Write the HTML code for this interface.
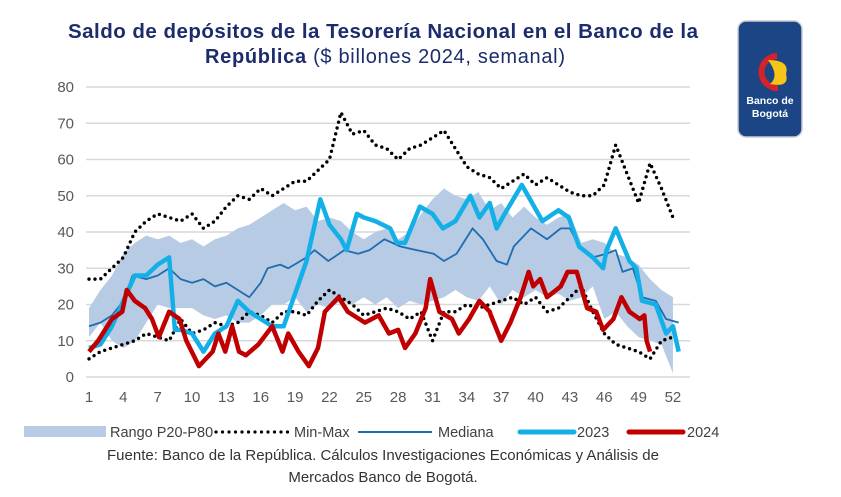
<!DOCTYPE html>
<html><head><meta charset="utf-8"><style>
body{margin:0;background:#fff;}
svg{display:block;font-family:"Liberation Sans",Arial,sans-serif;}
</style></head><body>
<svg id="chart" width="841" height="497" viewBox="0 0 841 497">
<text x="383" y="38" text-anchor="middle" font-size="20.5" font-weight="bold" fill="#1c2c6c" textLength="630">Saldo de depósitos de la Tesorería Nacional en el Banco de la</text>
<text x="385" y="63" text-anchor="middle" font-size="20" fill="#1c2c6c" textLength="360"><tspan font-weight="bold">República</tspan> ($ billones 2024, semanal)</text>
<g>
<rect x="738" y="21" width="64" height="116" rx="8" fill="#1b4585" stroke="#c9ccd3" stroke-width="1.5"/>
<path d="M777 56 A15 15 0 1 0 778 88" fill="none" stroke="#d62229" stroke-width="6"/>
<path d="M768 60 Q790 60 786 74 Q790 88 770 84 Q780 76 768 60Z" fill="#f5c518"/>
<text x="770" y="104" text-anchor="middle" font-size="10.5" font-weight="bold" fill="#fff">Banco de</text>
<text x="770" y="117" text-anchor="middle" font-size="10.5" font-weight="bold" fill="#fff">Bogotá</text>
</g>
<g id="grid"></g><g id="plot"></g><g id="axes"></g>
<g font-size="14.5" fill="#404040">
<rect x="24" y="426" width="82" height="11" fill="#b8cbe4"/>
<text x="110" y="437">Rango P20-P80</text>
<line x1="216" y1="432" x2="288" y2="432" stroke="#000" stroke-width="3.2" stroke-linecap="round" stroke-dasharray="0 6.5"/>
<text x="294" y="437">Min-Max</text>
<line x1="358" y1="432" x2="432" y2="432" stroke="#1f6db0" stroke-width="2"/>
<text x="438" y="437">Mediana</text>
<line x1="520" y1="432" x2="574" y2="432" stroke="#13b0e8" stroke-width="5" stroke-linecap="round"/>
<text x="577" y="437">2023</text>
<line x1="629" y1="432" x2="683" y2="432" stroke="#c00000" stroke-width="5" stroke-linecap="round"/>
<text x="687" y="437">2024</text>
</g>
<text x="383" y="460" text-anchor="middle" font-size="15" fill="#333">Fuente: Banco de la República. Cálculos Investigaciones Económicas y Análisis de</text>
<text x="383" y="482" text-anchor="middle" font-size="15" fill="#333">Mercados Banco de Bogotá.</text>
</svg>
<script>
const weeks=[1,2,3,4,5,6,7,8,9,10,11,12,13,14,15,16,17,18,19,20,21,22,23,24,25,26,27,28,29,30,31,32,33,34,35,36,37,38,39,40,41,42,43,44,45,46,47,48,49,50,51,52];
const bandUpper=[19,24,28,34,37,39,38,39,37,38,36,38,39,41,42,44,46,48,46,47,43,44,43,40,38,40,41,38,40,45,49,52,50,49,51,46,48,44,47,44,42,44,45,37,38,37,34,33,31,27,24,22];
const bandLower=[11,15,10,8,10,15,20,19,19,19,17,16,17,15,15,17,20,20,22,18,20,19,21,20,22,20,22,19,21,20,21,22,24,22,21,25,20,24,22,24,22,23,21,22,25,16,18,14,11,10,9,1];
const maxVals=[27,27,30,33,40,43,45,44,43,45,41,43,47,50,49,52,50,52,54,54,57,60,73,67,68,64,63,60,63,64,66,68,63,58,56,55,52,54,56,53,55,53,51,50,50,53,64,56,48,59,52,44];
const minVals=[5,7,8,9,10,12,11,10,16,12,13,15,14,15,18,17,15,18,18,17,21,24,22,20,17,18,19,18,16,18,10,18,18,20,19,20,21,22,20,22,18,19,22,25,18,12,9,8,7,5,10,11];
const medWeeks=[1,2,3,4,4.8,6,7,8,9,10,11,12,13,14,15,16,16.6,17.7,18.4,20,20.7,21.9,23.3,24.5,25.5,26.8,28.2,29.6,31.1,32,33.1,34.5,35.4,36.6,37.5,38.1,39.6,41,42.2,43,43.8,45,46.2,47,47.6,48.5,49.3,50.5,51.4,52.5];
const medVals=[14,15,17,21,28,27,28,30,27,26,27,25,26,24,22,26,30,31,30,33,35,32,35,34,35,38,36,35,34,32,34,41,38,32,31,36,41,38,41,41,36,33,34,35,29,30,22,21,16,15];
const y23Weeks=[1,2,3,4,5,6,7,8,8.5,9,10,11,12,13,14,15,16,17,18,19,20,21.2,22,23,23.5,24.4,25,26,27.3,27.9,28.6,29.9,31,31.9,33,34.3,35.1,36,36.6,37.3,38.8,39.7,40.6,42,42.9,43.8,45,45.9,46.2,47,48.2,48.8,49.3,50.5,51.4,52,52.5];
const y23Vals=[8,9,14,21,28,28,31,33,13,13,12,7,12,14,21,18,16,14,14,23,32,49,42,38,35,45,44,43,41,37,37,47,45,41,43,50,44,48,41,45,53,48,43,46,44,36,33,30,35,41,32,30,21,20,12,14,7];
const y24Weeks=[1,1.8,2.4,3,3.9,4.3,5,5.9,6.5,7.1,8,8.9,9.5,10.6,11.8,12.3,12.9,13.5,14.1,14.7,15.8,17,17.9,18.4,19.3,20.2,21,21.6,22.8,23.6,25.1,26.3,27.2,28,28.6,29.5,30.4,30.8,31.6,32.7,33.3,34.2,35.1,36,36.1,37,37.8,38.7,39.4,39.8,40.4,41,42.2,42.8,43.6,44.5,45.3,45.9,46.8,47.5,48.2,49.1,49.5,49.7,50];
const y24Vals=[7,10,13,16,18,24,21,19,16,11,18,16,10,3,7,12,7,14,7,6,9,14,7,12,7,3,8,18,22,18,15,17,12,13,8,12,19,27,18,16,12,16,21,18,17,10,15,22,29,25,27,22,25,29,29,19,18,13,16,22,18,16,17,10,7];
const yTicks=[0,10,20,30,40,50,60,70,80];
const xTicks=[1,4,7,10,13,16,19,22,25,28,31,34,37,40,43,46,49,52];

const NS="http://www.w3.org/2000/svg";
const X=w=>89+(w-1)*11.45;
const Y=v=>377-v*3.625;
function mk(t,a,p){const e=document.createElementNS(NS,t);for(const k in a)e.setAttribute(k,a[k]);p.appendChild(e);return e;}
const grid=document.getElementById('grid'),plot=document.getElementById('plot'),axes=document.getElementById('axes');
yTicks.forEach(v=>{
 const l=mk('line',{x1:86,x2:690,y1:Y(v),y2:Y(v),stroke:'#d9d9d9','stroke-width':1.5},grid);
 
 
 const t=mk('text',{x:74,y:Y(v)+5,'text-anchor':'end','font-size':15,fill:'#595959'},axes);t.textContent=v;
 
 
});
xTicks.forEach(w=>{
 const t=mk('text',{x:X(w),y:402,'text-anchor':'middle','font-size':15,fill:'#595959'},axes);t.textContent=w;
 
 
});
let d='M'+weeks.map((w,i)=>X(w)+','+Y(bandUpper[i])).join('L');
for(let i=weeks.length-1;i>=0;i--)d+='L'+X(weeks[i])+','+Y(bandLower[i]);
const band=mk('path',{d:d+'Z',fill:'#b8cbe4'},plot);


function line(ws,vs,attrs,name){
 const p=mk('polyline',Object.assign({points:ws.map((w,i)=>X(w)+','+Y(vs[i])).join(' '),fill:'none','stroke-linejoin':'round'},attrs),plot);
 
 
}
const dot={stroke:'#000','stroke-width':3.4,'stroke-linecap':'round','stroke-dasharray':'0 6'};
line(weeks,maxVals,dot,'max-series');
line(weeks,minVals,dot,'min-series');
line(medWeeks,medVals,{stroke:'#1f6db0','stroke-width':1.8},'median-series');
line(y23Weeks,y23Vals,{stroke:'#13b0e8','stroke-width':4.5},'series-2023');
line(y24Weeks,y24Vals,{stroke:'#c00000','stroke-width':4.5},'series-2024');
</script>
</body></html>
